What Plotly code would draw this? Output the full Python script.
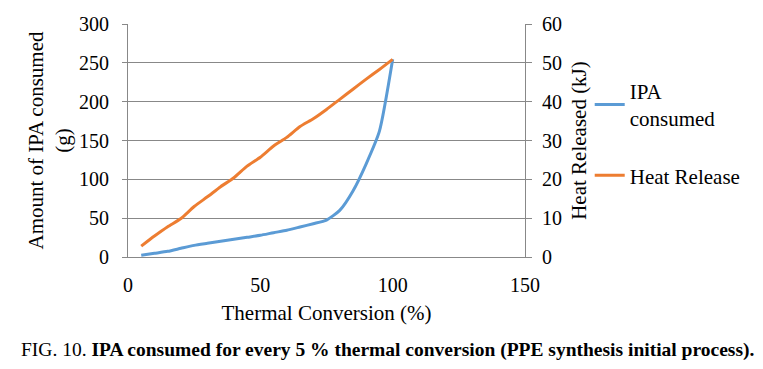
import plotly.graph_objects as go

conversion = [5, 10, 15, 20, 25, 30, 35, 40, 45, 50, 55, 60, 65, 70, 75, 80, 85, 90, 95, 100]
ipa_consumed = [2.2, 4.7, 7.3, 11.2, 15.0, 17.6, 20.2, 22.8, 25.4, 27.9, 31.3, 34.4, 38.6, 42.9, 47.6, 60, 85, 120, 162, 254.5]
heat_release = [2.8, 5.4, 7.8, 9.9, 13.0, 15.5, 18.1, 20.4, 23.4, 25.7, 28.6, 30.8, 33.6, 35.6, 38.0, 40.6, 43.2, 45.8, 48.3, 50.9]

FONT = "Liberation Serif"
GRAY = "#888888"

fig = go.Figure()
fig.add_trace(go.Scatter(x=conversion, y=ipa_consumed, mode="lines", name="IPA<br>consumed",
                         legendgroup="a",
                         line=dict(color="#5B9BD5", width=3, shape="spline", smoothing=0.6), yaxis="y"))
fig.add_trace(go.Scatter(x=conversion, y=heat_release, mode="lines", name="Heat Release",
                         legendgroup="b",
                         line=dict(color="#ED7D31", width=3, shape="spline", smoothing=0.6), yaxis="y2"))

fig.update_layout(
    width=763, height=369,
    margin=dict(l=128, r=238, t=24, b=112, autoexpand=False),
    paper_bgcolor="white", plot_bgcolor="white",
    font=dict(family=FONT, size=20, color="black"),
    showlegend=True,
    legend=dict(x=1.163, y=0.80, xanchor="left", yanchor="top", font=dict(size=21, family=FONT),
                tracegroupgap=27, bgcolor="rgba(0,0,0,0)"),
    xaxis=dict(range=[0, 150], tickvals=[0, 50, 100, 150], showgrid=False, zeroline=False,
               showline=True, linecolor=GRAY, linewidth=1, ticks="", ticklabelstandoff=10,
               automargin=False,
               title=dict(text="Thermal Conversion (%)", font=dict(size=21), standoff=10)),
    yaxis=dict(range=[0, 300], tickvals=[0, 50, 100, 150, 200, 250, 300], showgrid=True,
               gridcolor=GRAY, gridwidth=1, zeroline=False, showline=True, linecolor=GRAY,
               ticks="outside", ticklen=5, tickcolor=GRAY, ticklabelstandoff=9, automargin=False,
               title=dict(text="Amount of IPA consumed<br>(g)", font=dict(size=21), standoff=2)),
    yaxis2=dict(range=[0, 60], tickvals=[0, 10, 20, 30, 40, 50, 60], overlaying="y", side="right",
                showgrid=False, zeroline=False, showline=True, linecolor=GRAY, automargin=False,
                ticks="outside", ticklen=6, tickcolor=GRAY, ticklabelstandoff=6,
                title=dict(text="Heat Released (kJ)", font=dict(size=21), standoff=10)),
    annotations=[dict(text="FIG. 10. <b>IPA consumed for every 5 % thermal conversion (PPE synthesis initial process).</b>",
                      xref="paper", yref="paper", x=(387 - 128) / 397, y=-0.345, xanchor="center", yanchor="top",
                      showarrow=False, font=dict(size=19.5, family=FONT))],
)

fig.write_html("out.html", config={"displayModeBar": False},
               post_script="document.body.style.margin='0';")
